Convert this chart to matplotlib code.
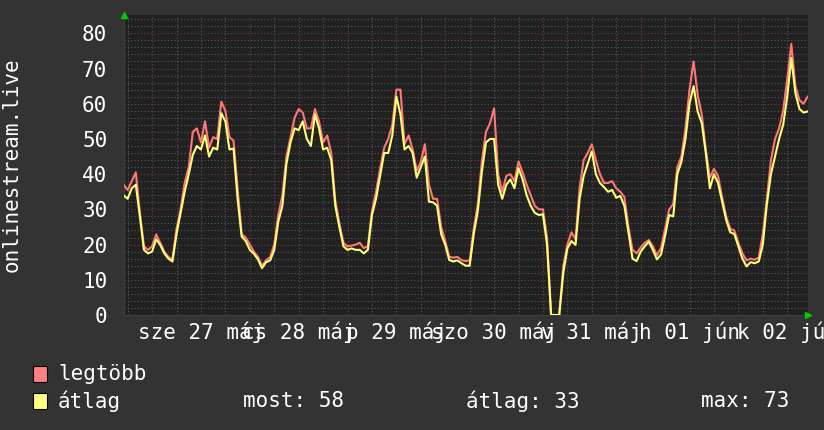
import matplotlib
matplotlib.use("Agg")
import matplotlib.pyplot as plt
from matplotlib.patches import Rectangle
from matplotlib.ticker import MultipleLocator, FuncFormatter
import numpy as np

# hours since 27 May 00:00, one sample per hour
hours = np.arange(-7, 162)

atlag = [34, 33, 36, 37, 28, 18.5, 17.5,
         18, 21.5, 19.9, 17.5, 16, 15.2, 23, 29, 35, 40, 45.5, 48, 47, 51, 45, 47.5, 47, 57.3, 55, 47, 47.3, 33, 22.3, 21,
         18.5, 17.4, 15.8, 13.3, 15, 15.5, 18.5, 26.5, 31, 43, 49, 53, 52.5, 55, 50, 48, 57, 53, 47, 47.5, 44, 31, 25, 19.5,
         18.5, 18.9, 18.5, 18.5, 17.5, 18.5, 28.4, 33, 39.5, 46, 46, 51, 62, 57, 47, 48, 46, 39, 42, 45, 32.2, 32, 31, 23,
         19.9, 15.6, 15.2, 15.5, 14.7, 14, 14, 23, 29.5, 40.7, 49, 50, 50, 37, 33, 37, 38.5, 36, 41.7, 38.5, 34, 31, 29, 28.4,
         28.6, 20, 0, 0, 0, 12, 18.9, 21, 19.9, 33, 39.5, 43, 46.5, 40, 37.5, 36.3, 35, 35.5, 33.3, 33.8, 31, 23.5,
         16, 15.3, 18, 19.5, 20.8, 18.5, 15.8, 17.2, 22.5, 28.4, 28, 40, 43.5, 50, 60, 65, 57.8, 54.5, 46, 36,
         40, 37.5, 32.2, 27, 23.5, 23, 19.5, 16, 13.8, 15, 14.7, 15.2, 20, 31.5, 40, 45, 50, 54, 62, 73, 63, 58.5,
         57.5, 57.8]

legtobb = [37, 35.5, 38, 40.5, 29, 19.5, 18.5,
           19.5, 22.9, 20.5, 18, 16.5, 15.8, 24.5, 30, 37.5, 42, 52, 53, 49, 55, 47.5, 50.5, 50, 60.6, 58, 50.5, 49.5, 36, 23, 22,
           20, 18, 16.5, 14, 15.5, 16.5, 20, 28.5, 34, 45, 50.5, 56, 58.5, 57.5, 53, 53, 58.5, 55, 49, 51, 46, 32.5, 26, 20.5,
           19.5, 19.7, 20, 20.5, 19, 19.5, 29.5, 35, 41.5, 47.5, 50, 54, 64, 64, 48.5, 51, 47, 41, 43.5, 48.5, 37, 33, 33, 25,
           21, 16.5, 16.3, 16.5, 15.6, 15.3, 15.5, 24.5, 31.5, 43.6, 52, 54.5, 58.7, 40, 35, 39.5, 40, 38, 43.6, 40.5, 37, 34, 31, 30,
           30, 22, 0, 0, 0, 14, 20, 23.5, 21.5, 36, 44, 46, 48.5, 44, 40, 37.5, 37.5, 38, 36, 35, 33.5, 25,
           18.5, 17.5, 19.2, 20.5, 21.3, 19.5, 17, 19, 24.5, 30, 31.5, 42, 45, 53, 64, 72, 62.5, 57, 47, 39,
           41.5, 39.5, 33.5, 28, 24.5, 24, 20.5, 17.5, 15.5, 16, 15.7, 16.3, 23, 33, 44, 50, 53, 58, 67, 77, 65, 61,
           60, 62]

day_labels = ["sze 27 máj", "cs 28 máj", "p 29 máj", "szo 30 máj", "v 31 máj", "h 01 jún", "k 02 jún"]
series_names = ["legtöbb", "átlag"]
colors = ["#ff7777", "#ffff77"]
swatch_colors = ["#ff8080", "#ffff80"]
stats = ["most: 58", "átlag: 33", "max: 73"]

bg = "#333333"
canvas = "#212121"
font = "DejaVu Sans Mono"
fs = 15

fig = plt.figure(figsize=(8.24, 4.30), dpi=100, facecolor=bg)
ax = fig.add_axes([124 / 824, 115 / 430, 684 / 824, 300 / 430])
ax.set_facecolor(canvas)

ax.plot(hours, legtobb, color=colors[0], lw=1.5, zorder=3)
ax.plot(hours, atlag, color=colors[1], lw=1.5, zorder=4)

ax.set_xlim(-6.9, 161.1)
ax.set_ylim(0, 85.2)

# grid: grey every 6h / 2 units, red at midnight / 10 units
ax.xaxis.set_major_locator(MultipleLocator(24))
ax.xaxis.set_minor_locator(MultipleLocator(6))
ax.yaxis.set_major_locator(MultipleLocator(10))
ax.yaxis.set_minor_locator(MultipleLocator(2))
ax.grid(which="minor", color="#595959", ls=(0, (1, 2)), lw=0.8)
ax.grid(which="major", color="#7a3a3a", ls=(0, (1, 2)), lw=0.8)
ax.set_axisbelow(True)


def day_label(x, pos):
    h = int(round(x))
    if h % 24 == 12:
        i = (h - 12) // 24
        if 0 <= i < len(day_labels):
            return day_labels[i]
    return ""


ax.xaxis.set_major_formatter(FuncFormatter(lambda x, pos: ""))
ax.xaxis.set_minor_formatter(FuncFormatter(day_label))
ax.tick_params(axis="x", which="both", length=0, pad=5, colors="white", labelsize=fs)
ax.tick_params(axis="y", which="both", length=0, pad=12, colors="white", labelsize=fs)
for lab in ax.get_xticklabels(minor=True) + ax.get_yticklabels():
    lab.set_fontfamily(font)

for s in ["top", "right"]:
    ax.spines[s].set_visible(False)
for s in ["left", "bottom"]:
    ax.spines[s].set_color("#404040")

# small green arrows at the axis ends
ax.plot([0], [1.0], marker="^", color="#00cc00", ms=5, transform=ax.transAxes, clip_on=False, zorder=5)
ax.plot([1.0], [0], marker=">", color="#00cc00", ms=5, transform=ax.transAxes, clip_on=False, zorder=5)

fig.text(12 / 824, 1 - 165 / 430, "onlinestream.live", rotation=90, ha="center", va="center",
         color="white", fontsize=fs, family=font)

# legend
rows_y = [374, 401]
for name, c, y in zip(series_names, swatch_colors, rows_y):
    fig.add_artist(Rectangle((33 / 824, 1 - (y + 8) / 430), 14 / 824, 16 / 430, facecolor=c,
                             edgecolor="black", lw=0.8, transform=fig.transFigure))
    fig.text(58 / 824, 1 - y / 430, name, ha="left", va="center", color="white", fontsize=fs, family=font)

for txt, x in zip(stats, [243, 466, 701]):
    fig.text(x / 824, 1 - 401 / 430, txt, ha="left", va="center", color="white", fontsize=fs, family=font)

fig.savefig("out.png", dpi=100, facecolor=bg)
